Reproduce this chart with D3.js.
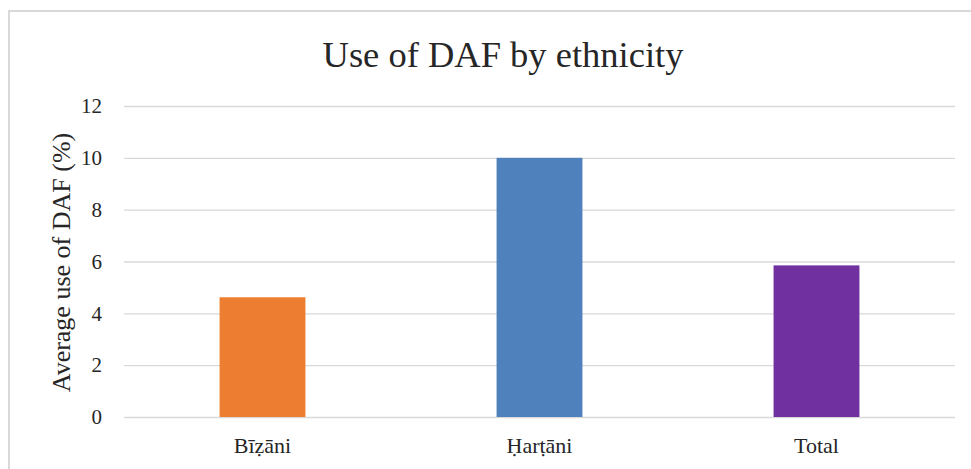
<!DOCTYPE html>
<html>
<head>
<meta charset="utf-8">
<script src="https://cdn.jsdelivr.net/npm/d3@7"></script>
<style>
  html, body { margin: 0; padding: 0; background: #fff; }
  svg { display: block; }
</style>
</head>
<body>
<script>
// Average use of DAF (%) per ethnic group
const categories = ["Bīẓāni", "Ḥarṭāni", "Total"];
const values = [4.62, 10.0, 5.85];
const barColors = ["#ED7D31", "#4F81BD", "#7030A0"];
const yTicks = [0, 2, 4, 6, 8, 10, 12];

const W = 971, H = 469;
const plot = { left: 124, right: 955, top: 106, bottom: 417 };
const serif = "'Liberation Serif', 'Times New Roman', Tinos, 'DejaVu Serif', serif";

const svg = d3.select("body").append("svg")
  .attr("width", W).attr("height", H);

svg.append("rect").attr("width", W).attr("height", H).attr("fill", "#fff");

// chart frame (only top and left edges fall inside the view)
svg.append("path")
  .attr("d", `M9,${H + 5} V11 H${W + 5}`)
  .attr("fill", "none")
  .attr("stroke", "#d9d9d9")
  .attr("stroke-width", 2);

const x = d3.scaleBand()
  .domain(categories)
  .range([plot.left, plot.right])
  .paddingInner(0.69)
  .paddingOuter(0.345);

const y = d3.scaleLinear()
  .domain([0, 12])
  .range([plot.bottom, plot.top]);

// gridlines
svg.append("g")
  .selectAll("line")
  .data(yTicks)
  .join("line")
  .attr("x1", plot.left).attr("x2", plot.right)
  .attr("y1", d => y(d) + 0.5).attr("y2", d => y(d) + 0.5)
  .attr("stroke", "#d9d9d9")
  .attr("stroke-width", 1.3);

// y axis tick labels
const yAxis = d3.axisLeft(y).tickValues(yTicks).tickSize(0).tickPadding(0);
const gy = svg.append("g")
  .attr("transform", `translate(102,0)`)
  .call(yAxis)
  .attr("font-family", null);
gy.select(".domain").remove();
gy.selectAll("text")
  .style("font-family", serif)
  .style("font-size", "21px")
  .attr("fill", "#262626");

// bars
svg.append("g")
  .selectAll("rect")
  .data(categories)
  .join("rect")
  .attr("x", d => x(d))
  .attr("width", x.bandwidth())
  .attr("y", (d, i) => y(values[i]))
  .attr("height", (d, i) => y(0) - y(values[i]))
  .attr("fill", (d, i) => barColors[i]);

// x axis category labels
const xAxis = d3.axisBottom(x).tickSize(0).tickPadding(0);
const gx = svg.append("g")
  .attr("transform", `translate(0,${plot.bottom + 20.5})`)
  .call(xAxis)
  .attr("font-family", null);
gx.select(".domain").remove();
gx.selectAll("text")
  .style("font-family", serif)
  .style("font-size", "22px")
  .attr("fill", "#262626");

// title
svg.append("text")
  .attr("x", 503).attr("y", 67)
  .attr("text-anchor", "middle")
  .style("font-family", serif)
  .style("font-size", "36.5px")
  .attr("fill", "#262626")
  .text("Use of DAF by ethnicity");

// y axis title
svg.append("text")
  .attr("transform", `translate(70,${(plot.top + plot.bottom) / 2 + 1}) rotate(-90)`)
  .attr("text-anchor", "middle")
  .style("font-family", serif)
  .style("font-size", "26px")
  .attr("fill", "#262626")
  .text("Average use of  DAF (%)");
</script>
</body>
</html>
